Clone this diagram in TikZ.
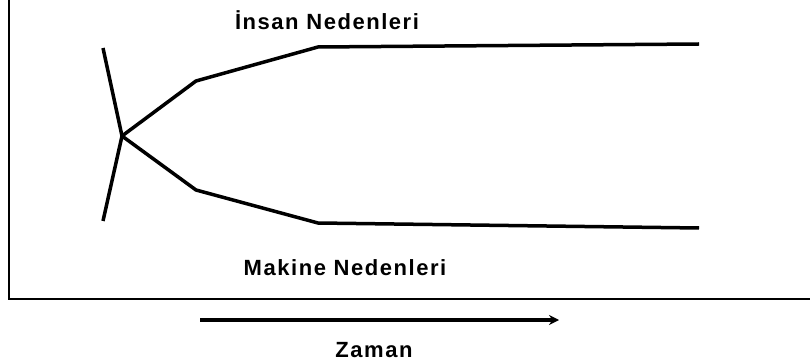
\documentclass[tikz,border=0pt]{standalone}
\usepackage{fontspec}
\setmainfont{Liberation Sans}[LetterSpace=7]
\usetikzlibrary{arrows.meta}
\tikzset{
caption/.style={
	font=\fontsize{22}{26}\selectfont\bfseries,
	inner sep=0pt,
	anchor=center
},
branch/.style={
	draw=black,
	line width=3.5pt,
	line join=round
},
timearrow/.style={
	draw=black,
	line width=4pt,
	-{Stealth[length=10pt,width=10pt]}
}
}
\begin{document}
\begin{tikzpicture}[x=1pt, y=-1pt]
\useasboundingbox (0,0) rectangle (810,363);
\clip (0,0) rectangle (810,363);
% ===== Frame (only left and bottom edges show) =====
\draw [line width=2pt] (9,-10) rectangle (820,299);
% ===== Points of the two branches =====
\coordinate (cross) at (122,136);
\coordinate (top)   at (103,48);
\coordinate (bot)   at (103,221);
\coordinate (up1)   at (196,81);
\coordinate (up2)   at (318,47);
\coordinate (up3)   at (699,44);
\coordinate (lo1)   at (196,190);
\coordinate (lo2)   at (318,223);
\coordinate (lo3)   at (699,228);
% ===== Labels =====
\node (insan)  [caption] at (327,20)  {İnsan Nedenleri};
\node (makine) [caption] at (345,268) {Makine Nedenleri};
\node (zaman)  [caption] at (374,350) {Zaman};
% ===== Branches =====
\draw [branch] (top) -- (cross) -- (bot);
\draw [branch] (cross) -- (up1) -- (up2) -- (up3);
\draw [branch] (cross) -- (lo1) -- (lo2) -- (lo3);
% time arrow
\coordinate (t0) at (200,320);
\coordinate (t1) at (559,320);
\draw [timearrow] (t0) -- (t1);
\end{tikzpicture}
\end{document}
